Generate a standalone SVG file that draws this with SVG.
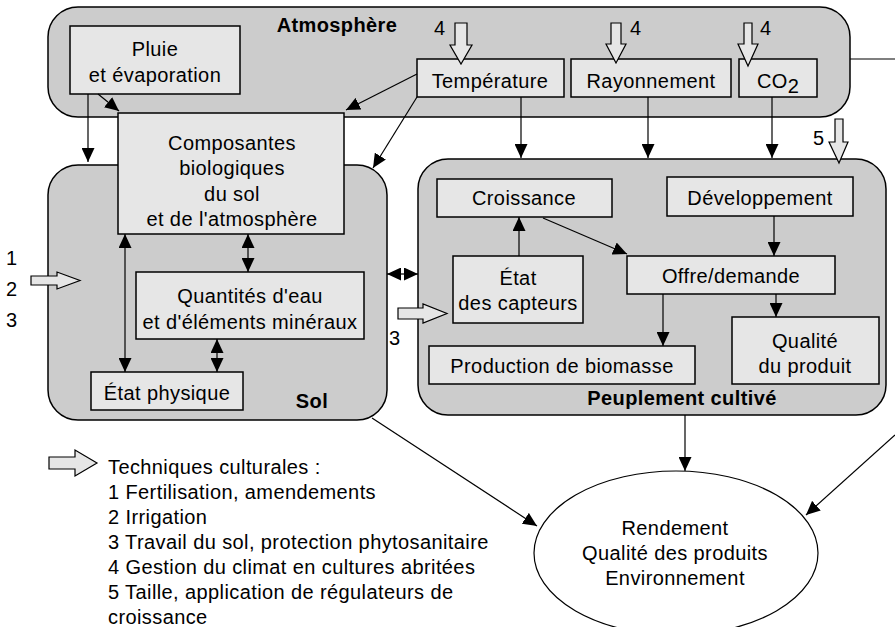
<svg xmlns="http://www.w3.org/2000/svg" width="895" height="627" viewBox="0 0 895 627">
<defs>
<marker id="ah" markerUnits="userSpaceOnUse" markerWidth="14" markerHeight="13" refX="14" refY="6.5" orient="auto-start-reverse"><path d="M0,0 L14,6.5 L0,13 z" fill="#000"/></marker>
<style>
.outer{fill:#cccccc;stroke:#000;stroke-width:1.5}
.box{fill:#e6e6e6;stroke:#000;stroke-width:1.5}
.hollow{fill:#e6e6e6;stroke:#000;stroke-width:1.2}
text{font-family:"Liberation Sans",Arial,Helvetica,sans-serif;font-size:20px;letter-spacing:0.4px;fill:#000}
.c{text-anchor:middle}
.b{font-weight:bold}
#connectors line,#connectors polyline{stroke:#000;stroke-width:1.2;fill:none}
.a{marker-end:url(#ah)}
.d{marker-start:url(#ah);marker-end:url(#ah)}
</style>
</defs>
<rect width="895" height="627" fill="#fff"/>

<g id="atmosphere">
<rect class="outer" x="48" y="7" width="802" height="110" rx="30"/>
<text class="c b" x="337" y="32">Atmosphère</text>
</g>
<g id="sol">
<rect class="outer" x="48" y="165" width="339" height="255" rx="30"/>
<text class="c b" x="312" y="408">Sol</text>
</g>
<g id="peuplement">
<rect class="outer" x="418" y="159" width="468" height="256" rx="30"/>
<text class="c b" x="682" y="405">Peuplement cultivé</text>
</g>

<g id="pluie">
<rect class="box" x="70" y="26" width="170" height="68"/>
<text class="c" x="155" y="56">Pluie</text>
<text class="c" x="155" y="82">et évaporation</text>
</g>
<g id="temperature">
<rect class="box" x="417" y="59" width="147" height="38"/>
<text class="c" x="490" y="88">Température</text>
</g>
<g id="rayonnement">
<rect class="box" x="571" y="59" width="160" height="38"/>
<text class="c" x="651" y="88">Rayonnement</text>
</g>
<g id="co2">
<rect class="box" x="739" y="59" width="78" height="38"/>
<text x="757" y="88">CO<tspan dy="5">2</tspan></text>
</g>
<g id="composantes">
<rect class="box" x="118" y="113" width="226" height="121"/>
<text class="c" x="232" y="150">Composantes</text>
<text class="c" x="232" y="175">biologiques</text>
<text class="c" x="232" y="201">du sol</text>
<text class="c" x="232" y="226">et de l'atmosphère</text>
</g>
<g id="quantites">
<rect class="box" x="136" y="272" width="228" height="67"/>
<text class="c" x="250" y="303">Quantités d'eau</text>
<text class="c" x="250" y="329">et d'éléments minéraux</text>
</g>
<g id="etat-physique">
<rect class="box" x="91" y="372" width="152" height="38"/>
<text class="c" x="167" y="400">État physique</text>
</g>
<g id="croissance">
<rect class="box" x="437" y="179" width="175" height="38"/>
<text class="c" x="524" y="205">Croissance</text>
</g>
<g id="developpement">
<rect class="box" x="667" y="177" width="186" height="39"/>
<text class="c" x="760" y="205">Développement</text>
</g>
<g id="etat-capteurs">
<rect class="box" x="453" y="256" width="130" height="67"/>
<text class="c" x="518" y="285">État</text>
<text class="c" x="518" y="310">des capteurs</text>
</g>
<g id="offre-demande">
<rect class="box" x="627" y="256" width="208" height="38"/>
<text class="c" x="731" y="283">Offre/demande</text>
</g>
<g id="production">
<rect class="box" x="429" y="346" width="266" height="38"/>
<text class="c" x="562" y="373">Production de biomasse</text>
</g>
<g id="qualite">
<rect class="box" x="732" y="317" width="147" height="67"/>
<text class="c" x="805" y="348">Qualité</text>
<text class="c" x="805" y="373">du produit</text>
</g>
<g id="resultat">
<ellipse cx="676" cy="553" rx="142" ry="82" fill="#fff" stroke="#000" stroke-width="1.2"/>
<text class="c" x="675" y="535">Rendement</text>
<text class="c" x="675" y="560">Qualité des produits</text>
<text class="c" x="675" y="585">Environnement</text>
</g>

<g id="techniques">
<polygon class="hollow" points="455,23 467,23 467,45 472,45 461,64 450,45 455,45"/>
<text x="434" y="35">4</text>
<polygon class="hollow" points="611,23 621,23 621,44 626,44 616,63 606,44 611,44"/>
<text x="630" y="35">4</text>
<polygon class="hollow" points="744,23 752,23 752,44 758,44 748,66 738,44 744,44"/>
<text x="760" y="35">4</text>
<polygon class="hollow" points="835,119 843,119 843,142 848,142 839,163 829,142 835,142"/>
<text x="813" y="145">5</text>
<polygon class="hollow" points="31,276 57,276 57,272 80,280.5 57,289 57,285 31,285"/>
<text x="6" y="265">1</text>
<text x="6" y="296">2</text>
<text x="6" y="327">3</text>
<polygon class="hollow" points="398,308 423,308 423,304 447,313.5 423,323 423,319 398,319"/>
<text x="389" y="345">3</text>
</g>

<g id="connectors">
<line class="a" x1="88" y1="94" x2="88" y2="162"/>
<line class="a" x1="98" y1="94" x2="119" y2="111"/>
<line class="a" x1="417" y1="74" x2="346" y2="110"/>
<line class="a" x1="417" y1="97" x2="373" y2="168"/>
<line class="a" x1="521" y1="97" x2="521" y2="158"/>
<line class="a" x1="648" y1="97" x2="648" y2="158"/>
<line class="a" x1="772" y1="97" x2="772" y2="158"/>
<line class="d" x1="125" y1="234" x2="125" y2="372"/>
<line class="d" x1="248" y1="234" x2="248" y2="272"/>
<line class="d" x1="217" y1="339" x2="217" y2="372"/>
<line class="d" x1="387" y1="274" x2="418" y2="274"/>
<line class="a" x1="519" y1="256" x2="519" y2="217"/>
<line class="a" x1="543" y1="218" x2="627" y2="254"/>
<line class="a" x1="774" y1="216" x2="774" y2="256"/>
<line class="a" x1="663" y1="294" x2="663" y2="346"/>
<line class="a" x1="776" y1="294" x2="776" y2="317"/>
<line class="a" x1="372" y1="418" x2="537" y2="526"/>
<line class="a" x1="685" y1="415" x2="685" y2="471"/>
<line x1="850" y1="59" x2="895" y2="59"/>
<line class="a" x1="895" y1="435" x2="806" y2="515"/>
</g>

<g id="legende">
<polygon class="hollow" points="49,457 75,457 75,450 97,463 75,476 75,469 49,469"/>
<text x="108" y="474">Techniques culturales :</text>
<text x="108" y="499">1 Fertilisation, amendements</text>
<text x="108" y="524">2 Irrigation</text>
<text x="108" y="549">3 Travail du sol, protection phytosanitaire</text>
<text x="108" y="574">4 Gestion du climat en cultures abritées</text>
<text x="108" y="599">5 Taille, application de régulateurs de</text>
<text x="108" y="624">croissance</text>
</g>
</svg>
